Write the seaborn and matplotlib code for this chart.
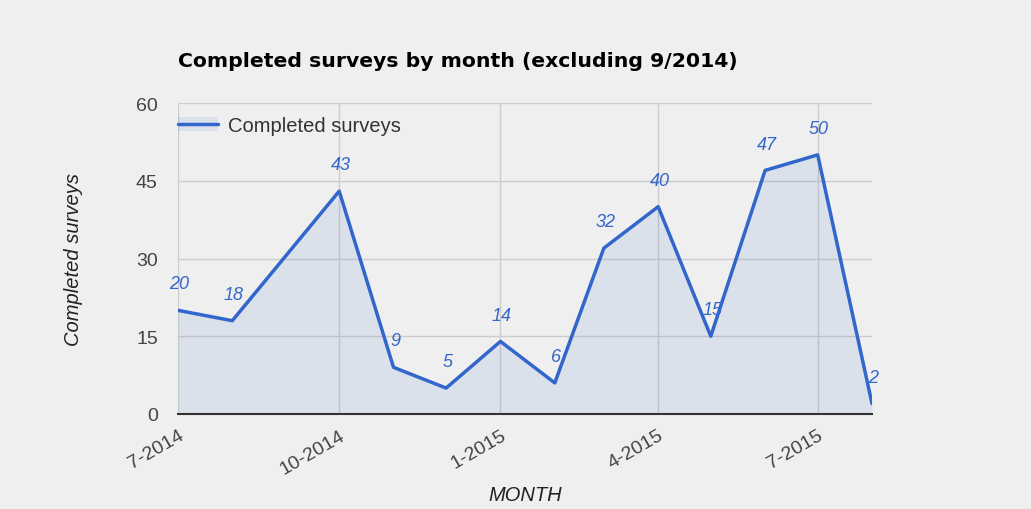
import pandas as pd
import matplotlib.pyplot as plt
import matplotlib.dates as mdates
import seaborn as sns
from matplotlib.patches import Patch
from matplotlib.legend_handler import HandlerTuple

# Monthly completed surveys (9/2014 excluded)
months = ['2014-07', '2014-08', '2014-10', '2014-11', '2014-12', '2015-01',
          '2015-02', '2015-03', '2015-04', '2015-05', '2015-06', '2015-07', '2015-08']
surveys = [20, 18, 43, 9, 5, 14, 6, 32, 40, 15, 47, 50, 2]
tick_months = ['2014-07', '2014-10', '2015-01', '2015-04', '2015-07']
y_ticks = [0, 15, 30, 45, 60]

df = pd.DataFrame({'month': pd.to_datetime(months), 'surveys': surveys})

sns.set_style('white')
plt.rcParams['font.family'] = ['Liberation Sans', 'DejaVu Sans']

bg = '#efefef'
blue = '#3366cc'

fig = plt.figure(figsize=(10.31, 5.10), dpi=100, facecolor=bg)
ax = fig.add_axes([0.1726, 0.1863, 0.6732, 0.6097])
ax.set_facecolor(bg)

# Area fill + line
ax.fill_between(df['month'], df['surveys'], 0, color=blue, alpha=0.1, linewidth=0)
sns.lineplot(data=df, x='month', y='surveys', ax=ax, color=blue, linewidth=2.5,
             legend=False)

# Data labels
for m, v in zip(df['month'], df['surveys']):
    ax.annotate(str(v), (m, v), xytext=(1, 19), textcoords='offset points',
                ha='center', va='center', fontsize=13, style='italic', color=blue)

ax.set_xlim(df['month'].iloc[0], df['month'].iloc[-1])
ax.set_ylim(0, 60)
ax.set_yticks(y_ticks)
ax.set_xticks(pd.to_datetime(tick_months))
ax.xaxis.set_major_formatter(mdates.DateFormatter('%-m-%Y'))
ax.grid(True, color='#cccccc', linewidth=1)
ax.set_axisbelow(True)
for side in ['top', 'right', 'left']:
    ax.spines[side].set_visible(False)
ax.spines['bottom'].set_color('#333333')
ax.spines['bottom'].set_linewidth(1.5)
ax.spines['bottom'].set_zorder(5)
ax.tick_params(axis='both', length=0, labelsize=14, colors='#444444')
ax.tick_params(axis='y', pad=14.5)
ax.tick_params(axis='x', pad=9)
plt.setp(ax.get_xticklabels(), rotation=30, ha='right', rotation_mode='anchor')

ax.set_xlabel('MONTH', fontsize=14.5, style='italic', color='#222222', labelpad=6)
ax.set_ylabel('Completed surveys', fontsize=14.5, style='italic', color='#222222', labelpad=38)

ax.set_title('Completed surveys by month (excluding 9/2014)', loc='left',
             fontsize=14.7, fontweight='bold', color='black', pad=27,
             family='DejaVu Sans')

# Legend: line drawn over a light fill swatch
line_h = plt.Line2D([], [], color=blue, linewidth=2.5)
patch_h = Patch(facecolor=blue, alpha=0.1, edgecolor='none')
ax.legend([(patch_h, line_h)], ['Completed surveys'], loc='upper left',
          bbox_to_anchor=(0, 0.958),
          handler_map={tuple: HandlerTuple(ndivide=1, pad=0)},
          frameon=False, fontsize=14.5, handlelength=2.0, borderaxespad=0,
          borderpad=0, handletextpad=0.5, labelcolor='#333333')

fig.savefig('out.png', dpi=100, facecolor=bg)
